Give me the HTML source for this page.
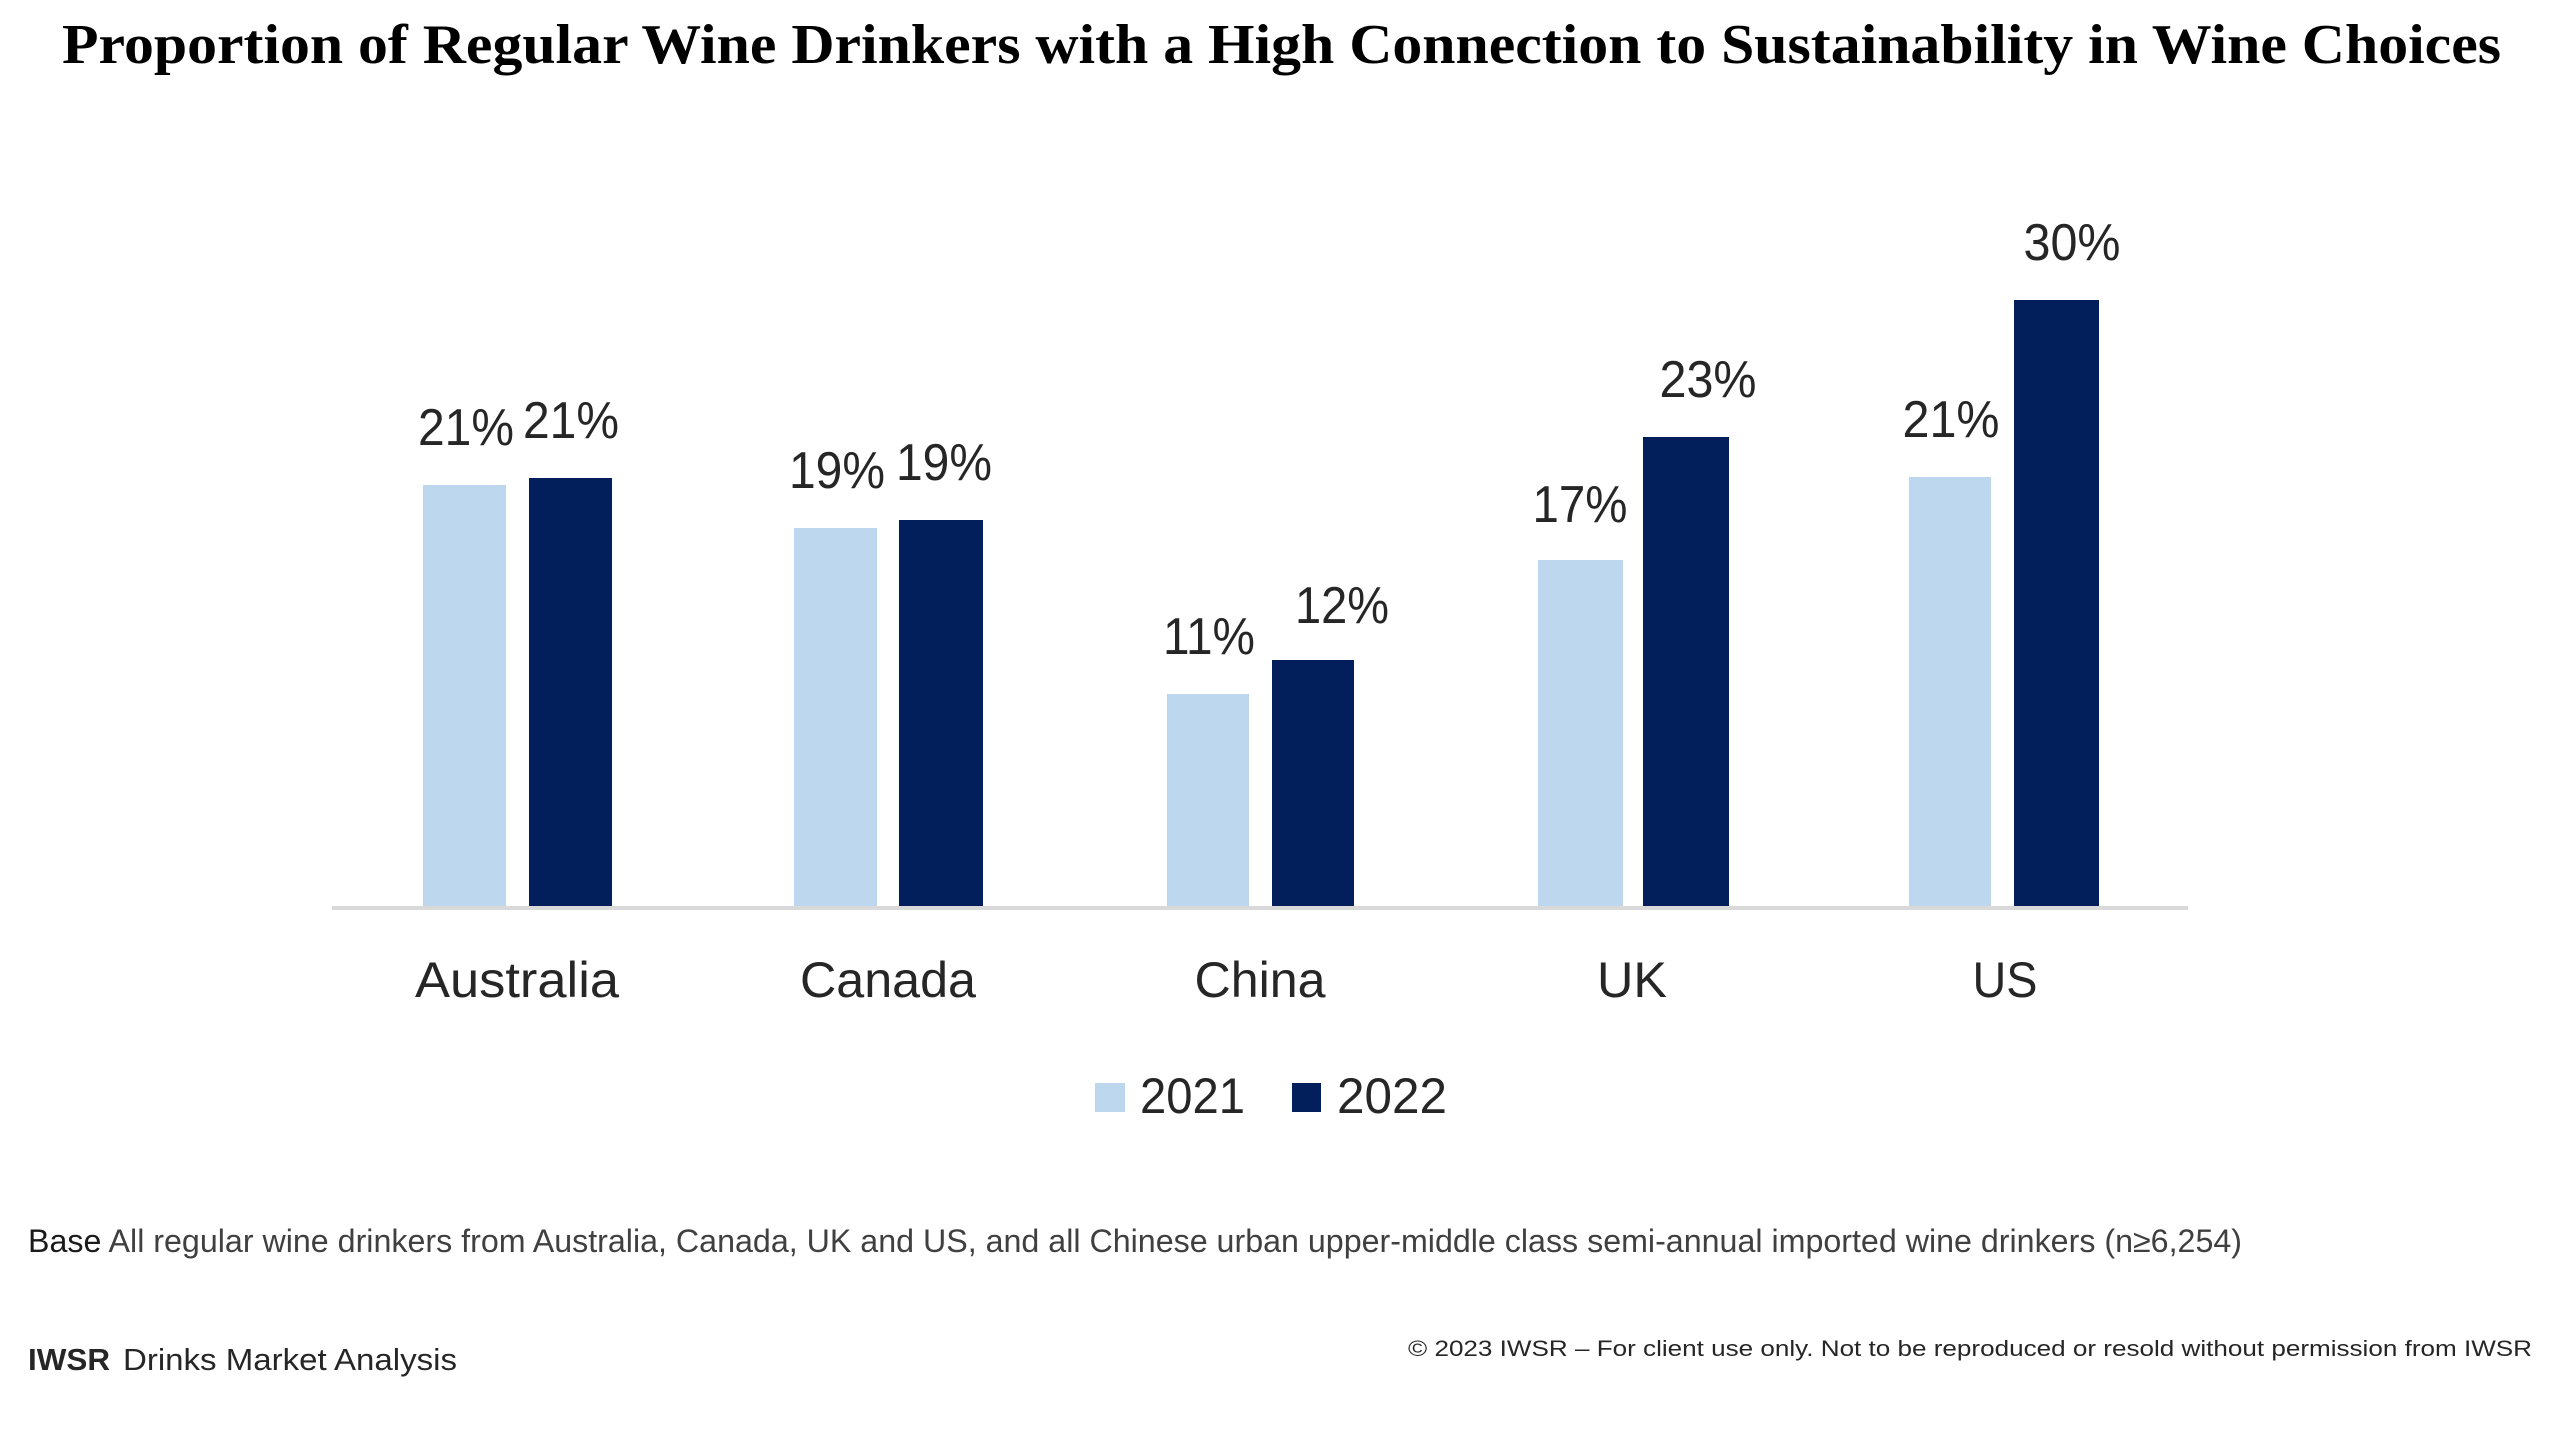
<!DOCTYPE html>
<html>
<head>
<meta charset="utf-8">
<style>
  html, body { margin:0; padding:0; background:#ffffff; }
  body { width:2560px; height:1438px; overflow:hidden; }
  svg { display:block; }
  .t { font-family:"Liberation Serif", "DejaVu Serif", serif; font-weight:bold; fill:#000; }
  .s { font-family:"Liberation Sans", "DejaVu Sans", sans-serif; fill:#262626; }
</style>
</head>
<body>
<svg width="2560" height="1438" viewBox="0 0 2560 1438" xmlns="http://www.w3.org/2000/svg">
  <rect x="0" y="0" width="2560" height="1438" fill="#ffffff"/>

  <!-- Title -->
  <text class="t" x="62" y="63" font-size="56" textLength="2439" lengthAdjust="spacingAndGlyphs">Proportion of Regular Wine Drinkers with a High Connection to Sustainability in Wine Choices</text>

  <!-- Axis line -->
  <rect x="332" y="906" width="1856" height="4" fill="#d9d9d9"/>

  <!-- Bars: Australia -->
  <rect x="423" y="485" width="83" height="421" fill="#bdd7ee"/>
  <rect x="529" y="478" width="83" height="428" fill="#021f5b"/>
  <!-- Canada -->
  <rect x="794" y="528" width="83" height="378" fill="#bdd7ee"/>
  <rect x="899" y="520" width="84" height="386" fill="#021f5b"/>
  <!-- China -->
  <rect x="1167" y="694" width="82" height="212" fill="#bdd7ee"/>
  <rect x="1272" y="660" width="82" height="246" fill="#021f5b"/>
  <!-- UK -->
  <rect x="1538" y="560" width="85" height="346" fill="#bdd7ee"/>
  <rect x="1643" y="437" width="86" height="469" fill="#021f5b"/>
  <!-- US -->
  <rect x="1909" y="477" width="82" height="429" fill="#bdd7ee"/>
  <rect x="2014" y="300" width="85" height="606" fill="#021f5b"/>

  <!-- Data labels -->
  <g class="s" font-size="52" text-anchor="middle">
    <text x="466" y="445" textLength="96" lengthAdjust="spacingAndGlyphs">21%</text>
    <text x="571" y="438" textLength="96" lengthAdjust="spacingAndGlyphs">21%</text>
    <text x="837" y="488" textLength="96" lengthAdjust="spacingAndGlyphs">19%</text>
    <text x="944" y="480" textLength="96" lengthAdjust="spacingAndGlyphs">19%</text>
    <text x="1209" y="654" textLength="92" lengthAdjust="spacingAndGlyphs">11%</text>
    <text x="1342" y="623" textLength="94" lengthAdjust="spacingAndGlyphs">12%</text>
    <text x="1580" y="522" textLength="95" lengthAdjust="spacingAndGlyphs">17%</text>
    <text x="1708" y="397" textLength="97" lengthAdjust="spacingAndGlyphs">23%</text>
    <text x="1951" y="437" textLength="97" lengthAdjust="spacingAndGlyphs">21%</text>
    <text x="2072" y="260" textLength="97" lengthAdjust="spacingAndGlyphs">30%</text>
  </g>

  <!-- Category labels -->
  <g class="s" font-size="50" text-anchor="middle">
    <text x="517" y="997" textLength="204" lengthAdjust="spacingAndGlyphs">Australia</text>
    <text x="888" y="997" textLength="176" lengthAdjust="spacingAndGlyphs">Canada</text>
    <text x="1260" y="997" textLength="131" lengthAdjust="spacingAndGlyphs">China</text>
    <text x="1632" y="997" textLength="70" lengthAdjust="spacingAndGlyphs">UK</text>
    <text x="2005" y="997" textLength="65" lengthAdjust="spacingAndGlyphs">US</text>
  </g>

  <!-- Legend -->
  <rect x="1095" y="1083" width="30" height="29" fill="#bdd7ee"/>
  <text class="s" x="1140" y="1113" font-size="50" textLength="105" lengthAdjust="spacingAndGlyphs">2021</text>
  <rect x="1292" y="1083" width="29" height="29" fill="#021f5b"/>
  <text class="s" x="1337" y="1113" font-size="50" textLength="110" lengthAdjust="spacingAndGlyphs">2022</text>

  <!-- Footnote -->
  <text class="s" x="28" y="1252" font-size="32" textLength="2214" lengthAdjust="spacingAndGlyphs"><tspan fill="#1a1a1a">Base</tspan><tspan fill="#404040"> All regular wine drinkers from Australia, Canada, UK and US, and all Chinese urban upper-middle class semi-annual imported wine drinkers (n≥6,254)</tspan></text>

  <!-- Footer left -->
  <text class="s" x="28" y="1370" font-size="31" font-weight="bold" fill="#000" textLength="82" lengthAdjust="spacingAndGlyphs">IWSR</text>
  <text class="s" x="123" y="1370" font-size="31" fill="#111" textLength="334" lengthAdjust="spacingAndGlyphs">Drinks Market Analysis</text>

  <!-- Footer right -->
  <text class="s" x="1408" y="1356" font-size="22" fill="#222" textLength="1124" lengthAdjust="spacingAndGlyphs">© 2023 IWSR – For client use only. Not to be reproduced or resold without permission from IWSR</text>
</svg>
</body>
</html>
